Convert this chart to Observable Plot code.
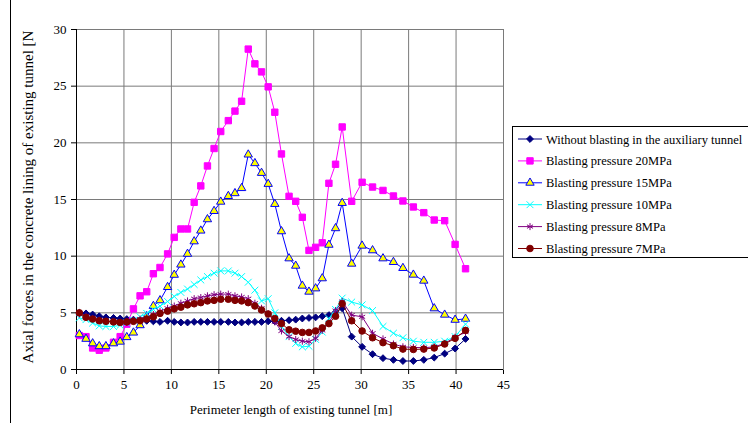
<!DOCTYPE html>
<html><head><meta charset="utf-8">
<script src="https://cdn.jsdelivr.net/npm/d3@7"></script>
<script src="https://cdn.jsdelivr.net/npm/@observablehq/plot@0.6"></script>
<style>
html,body{margin:0;padding:0;background:#fff;overflow:hidden;}
#chart{position:relative;width:748px;height:423px;overflow:hidden;}
</style>
</head><body>
<div id="chart"></div>
<script>
// ---- data ----
const xTicks = [0, 5, 10, 15, 20, 25, 30, 35, 40, 45];
const yTicks = [0, 5, 10, 15, 20, 25, 30];
const xPos = [0.3, 1.0, 1.7, 2.4, 3.1, 3.9, 4.6, 5.3, 6.0, 6.7,
  7.4, 8.1, 8.8, 9.6, 10.3, 11.0, 11.7, 12.4, 13.1, 13.8,
  14.5, 15.2, 16.0, 16.7, 17.4, 18.1, 18.8, 19.5, 20.2, 20.9,
  21.6, 22.4, 23.1, 23.8, 24.5, 25.2, 25.9, 26.6, 27.3, 28.0,
  29.0, 30.1, 31.2, 32.3, 33.4, 34.4, 35.5, 36.6, 37.7, 38.8, 39.9, 41.0];
const seriesNames = [
  "Without blasting in the auxiliary tunnel",
  "Blasting pressure 20MPa",
  "Blasting pressure 15MPa",
  "Blasting pressure 10MPa",
  "Blasting pressure 8MPa",
  "Blasting pressure 7MPa"
];
const noBlast = [5.0,4.95,4.85,4.7,4.6,4.55,4.5,4.45,4.4,4.35,
  4.3,4.25,4.2,4.3,4.2,4.15,4.15,4.2,4.2,4.2,
  4.2,4.2,4.2,4.15,4.15,4.2,4.2,4.2,4.25,4.25,
  4.3,4.35,4.4,4.5,4.55,4.6,4.7,4.8,5.05,5.4,
  2.9,2.0,1.35,1.0,0.85,0.75,0.75,0.85,1.05,1.4,1.85,2.7];
const p20 = [3.0,2.9,1.9,1.7,1.9,2.4,2.9,4.0,5.35,6.5,
  6.86,8.45,9.0,10.2,11.66,12.4,12.4,14.75,16.2,17.96,
  19.5,21.0,21.96,22.8,23.67,28.27,26.97,26.26,24.94,22.7,
  19.02,15.28,14.84,13.43,10.51,10.78,11.18,16.43,18.11,21.4,
  14.84,16.52,16.1,15.8,15.31,14.87,14.34,13.84,13.19,13.13,11.04,8.89];
const p15 = [3.1,2.7,2.3,2.05,2.05,2.3,2.45,2.85,3.25,3.9,
  4.7,5.6,6.1,7.27,8.35,9.25,10.2,11.3,12.25,13.25,
  13.98,14.8,15.3,15.55,16.0,18.96,18.2,17.34,16.37,14.6,
  12.19,9.8,9.15,7.39,6.86,7.15,8.04,11.0,12.46,14.69,
  9.33,10.92,10.51,9.8,9.48,8.95,8.36,7.83,5.39,4.83,4.38,4.47];
const p10 = [4.55,4.4,4.1,3.85,3.8,3.8,3.9,4.1,4.35,4.65,
  4.95,5.3,5.6,6.0,6.45,6.8,7.1,7.5,7.9,8.2,
  8.5,8.7,8.7,8.5,8.2,7.7,7.0,6.05,6.25,5.0,
  3.8,2.9,2.3,2.0,2.05,2.65,3.3,4.5,5.3,6.3,
  5.95,5.7,5.2,3.8,3.2,2.8,2.5,2.4,2.4,2.5,2.9,4.0];
const p8 = [4.9,4.7,4.5,4.35,4.25,4.2,4.15,4.2,4.3,4.45,
  4.6,4.85,5.15,5.4,5.6,5.85,6.05,6.25,6.35,6.5,
  6.6,6.65,6.65,6.5,6.4,6.25,5.85,5.4,4.9,4.2,
  3.4,2.9,2.65,2.5,2.45,2.75,3.45,4.1,5.2,6.0,
  4.8,4.65,3.2,2.7,2.25,2.0,1.95,1.92,2.0,2.3,2.85,3.3];
const p7 = [5.0,4.6,4.45,4.3,4.25,4.2,4.15,4.2,4.25,4.3,
  4.45,4.65,4.95,5.15,5.35,5.5,5.7,5.8,5.9,6.05,
  6.1,6.2,6.2,6.1,6.05,5.9,5.6,5.25,4.9,4.5,
  4.05,3.5,3.38,3.27,3.27,3.4,3.67,4.05,4.7,5.8,
  4.3,3.4,2.8,2.37,2.1,1.8,1.77,1.8,1.9,2.25,2.75,3.45];

// ---- styles ----
const styles = [
  {color: "#000080", symbol: "diamond2", fill: "#000080", stroke: "#000080", r: 3.1},
  {color: "#FF00FF", symbol: "square", fill: "#FF00FF", stroke: "#FF00FF", r: 3.6},
  {color: "#0000FF", symbol: "triangle", fill: "#FFFF00", stroke: "#0000FF", r: 3.1},
  {color: "#00FFFF", symbol: "times", fill: "none", stroke: "#00FFFF", r: 3.2},
  {color: "#800080", symbol: "asterisk", fill: "none", stroke: "#800080", r: 3.3},
  {color: "#800000", symbol: "circle", fill: "#800000", stroke: "#800000", r: 3.3}
];
const allValues = [noBlast, p20, p15, p10, p8, p7];
const seriesData = allValues.map(vals => xPos.map((x, i) => ({x, y: vals[i]})));

const font = "'Liberation Serif', 'Times New Roman', serif";
const marks = [
  Plot.ruleX(xTicks, {stroke: "#7a7a7a", strokeWidth: 1}),
  Plot.ruleY(yTicks, {stroke: "#7a7a7a", strokeWidth: 1}),
  Plot.frame({stroke: "#7a7a7a"}),
  Plot.ruleX([0], {stroke: "#000", strokeWidth: 1}),
  Plot.ruleY([0], {stroke: "#000", strokeWidth: 1})
];
seriesData.forEach((d, k) => {
  const st = styles[k];
  marks.push(Plot.line(d, {x: "x", y: "y", stroke: st.color, strokeWidth: 1}));
  marks.push(Plot.dot(d, {x: "x", y: "y", symbol: () => st.symbol, r: st.r, fill: st.fill, stroke: st.stroke, strokeWidth: 1}));
});

const svg = Plot.plot({
  width: 748,
  height: 423,
  marginLeft: 76,
  marginRight: 245,
  marginTop: 29,
  marginBottom: 54,
  style: {fontFamily: font, fontSize: "13px", color: "#000", background: "#fff"},
  symbol: {type: "identity"},
  x: {type: "linear", domain: [0, 45], ticks: xTicks, tickSize: 5, tickPadding: 5, label: null, tickFormat: d => String(d)},
  y: {type: "linear", domain: [0, 30], ticks: yTicks, tickSize: 5, tickPadding: 5, label: null, tickFormat: d => String(d)},
  marks
});
document.getElementById("chart").appendChild(svg);

// ---- titles, legend, chart border ----
const s = d3.select(svg);
s.append("text").attr("x", 291).attr("y", 414).attr("text-anchor", "middle")
  .attr("font-family", font).attr("font-size", 13).attr("fill", "#000")
  .text("Perimeter length of existing tunnel [m]");
s.append("text").attr("transform", "translate(33,197) rotate(-90)").attr("text-anchor", "middle")
  .attr("font-family", font).attr("font-size", 15).attr("fill", "#000")
  .text("Axial forces in the concrete lining of existing tunnel [N");
s.append("line").attr("x1", 10.5).attr("x2", 10.5).attr("y1", 0).attr("y2", 423)
  .attr("stroke", "#000").attr("stroke-width", 1);

const symMap = {diamond2: d3.symbolDiamond2, square: d3.symbolSquare, triangle: d3.symbolTriangle,
  times: d3.symbolTimes, asterisk: d3.symbolAsterisk, circle: d3.symbolCircle};
const lg = s.append("g");
lg.append("rect").attr("x", 512.5).attr("y", 126.5).attr("width", 260).attr("height", 131)
  .attr("fill", "#fff").attr("stroke", "#000").attr("stroke-width", 1);
seriesNames.forEach((name, k) => {
  const st = styles[k];
  const cy = 139 + k * 21.9;
  lg.append("line").attr("x1", 518).attr("x2", 542).attr("y1", cy).attr("y2", cy)
    .attr("stroke", st.color).attr("stroke-width", 1);
  lg.append("path").attr("transform", `translate(530,${cy})`)
    .attr("d", d3.symbol(symMap[st.symbol], Math.PI * st.r * st.r)())
    .attr("fill", st.fill).attr("stroke", st.stroke).attr("stroke-width", 1);
  lg.append("text").attr("x", 546).attr("y", cy + 4.5).attr("text-anchor", "start")
    .attr("font-family", font).attr("font-size", 12.5).attr("fill", "#000").text(name);
});
</script>
</body></html>
